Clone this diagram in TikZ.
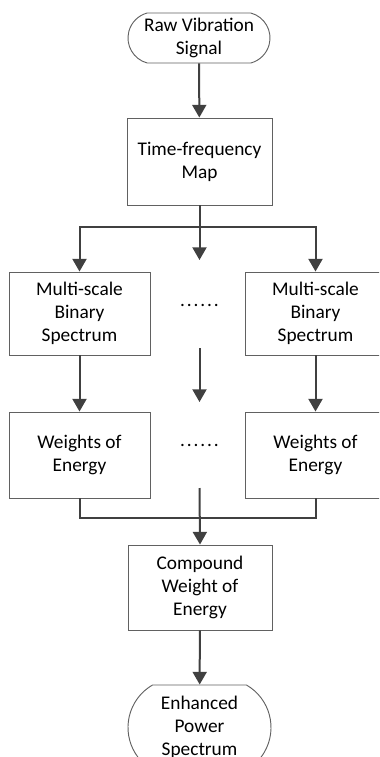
\documentclass[tikz,border=0pt]{standalone}
\usepackage{fontspec}
\setmainfont{Carlito}
\usetikzlibrary{arrows.meta,positioning}
\usetikzlibrary{shapes.misc}

\newcommand{\gapdots}{.\kern1.4pt.\kern1.4pt.\kern1.4pt.\kern1.4pt.\kern1.4pt.}

\begin{document}
\begin{tikzpicture}[
		x=0.75pt, y=-0.75pt,
		every node/.style={font=\fontsize{14.5}{17.2}\selectfont, align=center, inner sep=0pt},
		block/.style={draw=black!62, line width=0.7pt, rectangle},
		terminal/.style={draw=black!62, line width=0.7pt, rounded rectangle},
		flow/.style={draw=black!75, line width=1.5pt},
		flowarrow/.style={flow, -{Triangle[width=10.5pt,length=9.5pt]}},
	]
		\useasboundingbox (0,0) rectangle (379,757);
		\clip (0,0) rectangle (379,757);

		\node[terminal, rounded rectangle arc length=150, minimum width=106.5pt, minimum height=37.5pt] (start) at (199,38) {Raw Vibration\\Signal};
		\node[block, minimum width=108.75pt, minimum height=65.25pt] (tfmap) at (199.5,161.5) {Time-frequency\\Map};

		\node[block, minimum width=105.75pt, minimum height=62.25pt] (msb1) at (79.5,313.5) {Multi-scale\\Binary\\Spectrum};
		\node[block, minimum width=105.75pt, minimum height=62.25pt] (msb2) at (315.5,313.5) {Multi-scale\\Binary\\Spectrum};
		\node (dots1) at (199.5,305) {\gapdots};

		\node[block, minimum width=105.75pt, minimum height=64.5pt] (woe1) at (79.5,455) {Weights of\\Energy};
		\node[block, minimum width=105.75pt, minimum height=64.5pt] (woe2) at (315.5,455) {Weights of\\Energy};
		\node (dots2) at (199.5,445) {\gapdots};

		\node[block, minimum width=108pt, minimum height=63.75pt] (cwe) at (200,587.5) {Compound\\Weight of\\Energy};
		\node[terminal, rounded rectangle arc length=120, minimum width=107.25pt, minimum height=63.75pt] (end) at (199.5,727.5) {Enhanced\\Power\\Spectrum};

		\coordinate (split) at (199.5,227);
		\coordinate (midtop) at (199.5,260);
		\coordinate (midlow) at (199.5,348);
		\coordinate (midend) at (199.5,402);
		\coordinate (merge) at (199.5,518);
		\coordinate (midjoin) at (199.5,488);

		\draw[flowarrow] (start) -- (tfmap);
		\draw[flow] (tfmap.south) -- (split);
		\draw[flowarrow] (split) -| (msb1.north);
		\draw[flowarrow] (split) -| (msb2.north);
		\draw[flowarrow] (split) -- (midtop);

		\draw[flowarrow] (msb1) -- (woe1);
		\draw[flowarrow] (msb2) -- (woe2);
		\draw[flowarrow] (midlow) -- (midend);

		\draw[flow] (woe1.south) |- (merge) -| (woe2.south);
		\draw[flowarrow] (midjoin) -- (cwe.north);
		\draw[flowarrow] (cwe) -- (end);
	\end{tikzpicture}
\end{document}
